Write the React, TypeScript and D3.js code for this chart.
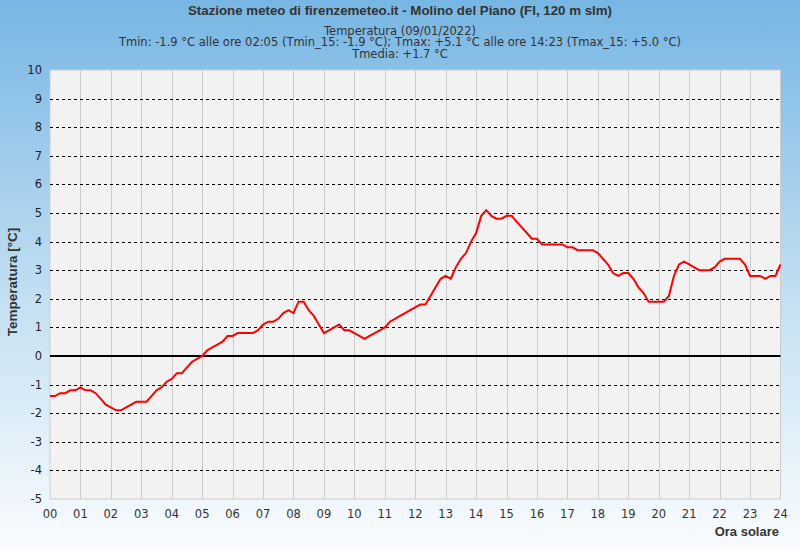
import React from "react";
import * as d3 from "d3";

const TITLE = "Stazione meteo di firenzemeteo.it - Molino del Piano (FI, 120 m slm)";
const SUBTITLE = [
  "Temperatura (09/01/2022)",
  "Tmin: -1.9 °C alle ore 02:05 (Tmin_15: -1.9 °C); Tmax: +5.1 °C alle ore 14:23 (Tmax_15: +5.0 °C)",
  "Tmedia: +1.7 °C",
];
const X_LABEL = "Ora solare";
const Y_LABEL = "Temperatura [°C]";
const HOUR_TICKS = ["00","01","02","03","04","05","06","07","08","09","10","11","12","13","14","15","16","17","18","19","20","21","22","23","24"];
const Y_TICKS = [-5,-4,-3,-2,-1,0,1,2,3,4,5,6,7,8,9,10];

// temperature every 10 minutes from 00:00 to 24:00
const TEMPS = [
  -1.4,-1.4,-1.3,-1.3,-1.2,-1.2,-1.1,-1.2,-1.2,-1.3,-1.5,-1.7,
  -1.8,-1.9,-1.9,-1.8,-1.7,-1.6,-1.6,-1.6,-1.4,-1.2,-1.1,-0.9,
  -0.8,-0.6,-0.6,-0.4,-0.2,-0.1,0.0,0.2,0.3,0.4,0.5,0.7,
  0.7,0.8,0.8,0.8,0.8,0.9,1.1,1.2,1.2,1.3,1.5,1.6,
  1.5,1.9,1.9,1.6,1.4,1.1,0.8,0.9,1.0,1.1,0.9,0.9,
  0.8,0.7,0.6,0.7,0.8,0.9,1.0,1.2,1.3,1.4,1.5,1.6,
  1.7,1.8,1.8,2.1,2.4,2.7,2.8,2.7,3.1,3.4,3.6,4.0,
  4.3,4.9,5.1,4.9,4.8,4.8,4.9,4.9,4.7,4.5,4.3,4.1,
  4.1,3.9,3.9,3.9,3.9,3.9,3.8,3.8,3.7,3.7,3.7,3.7,
  3.6,3.4,3.2,2.9,2.8,2.9,2.9,2.7,2.4,2.2,1.9,1.9,
  1.9,1.9,2.1,2.8,3.2,3.3,3.2,3.1,3.0,3.0,3.0,3.1,
  3.3,3.4,3.4,3.4,3.4,3.2,2.8,2.8,2.8,2.7,2.8,2.8,
  3.2,
];

const W = 800;
const H = 550;
const PLOT = { left: 50, right: 780.5, top: 70, bottom: 499 };

export default function App() {
  const x = d3.scaleLinear().domain([0, 24]).range([PLOT.left, PLOT.right]);
  const y = d3.scaleLinear().domain([-5, 10]).range([PLOT.bottom, PLOT.top]);
  const pts = TEMPS.map((v, i) => [i / 6, v] as [number, number]);
  const line = d3.line<[number, number]>().x((d) => x(d[0])).y((d) => y(d[1])).curve(d3.curveLinear);
  const font = "'DejaVu Sans', sans-serif";
  const boldFont = "'Liberation Sans', Arial, sans-serif";
  return (
    <svg width={W} height={H} style={{ position: "absolute", left: 0, top: 0 }}>
      <defs>
        <linearGradient id="bg" x1="0" y1="0" x2="0" y2="1">
          <stop offset="0%" stopColor="#77b6e4" />
          <stop offset="55%" stopColor="#c4e0f2" />
          <stop offset="100%" stopColor="#fafcfe" />
        </linearGradient>
      </defs>
      <rect x={0} y={0} width={W} height={H} fill="url(#bg)" />
      <rect x={PLOT.left} y={PLOT.top} width={PLOT.right - PLOT.left} height={PLOT.bottom - PLOT.top} fill="#f2f2f2" stroke="#cccccc" strokeWidth={1} />
      {HOUR_TICKS.slice(1, 24).map((_, i) => (
        <line key={"v" + i} x1={Math.round(x(i + 1)) + 0.5} x2={Math.round(x(i + 1)) + 0.5} y1={PLOT.top} y2={PLOT.bottom} stroke="#cccccc" strokeWidth={1} />
      ))}
      {Y_TICKS.filter((t) => t !== 0 && t !== -5 && t !== 10).map((t) => (
        <line key={"h" + t} x1={PLOT.left} x2={PLOT.right} y1={Math.round(y(t)) + 0.5} y2={Math.round(y(t)) + 0.5} stroke="#000" strokeWidth={1} strokeDasharray="3,3" />
      ))}
      <line x1={PLOT.left} x2={PLOT.right} y1={y(0)} y2={y(0)} stroke="#000" strokeWidth={2} />
      <path d={line(pts) || ""} fill="none" stroke="#ff0000" strokeWidth={2} />
      {Y_TICKS.map((t) => (
        <text key={"yt" + t} x={42} y={y(t)} dy="0.35em" textAnchor="end" fontFamily={font} fontSize={11.5} fill="#222">{t}</text>
      ))}
      {HOUR_TICKS.map((t, i) => (
        <text key={"xt" + i} x={x(i)} y={518} textAnchor="middle" fontFamily={font} fontSize={11.5} fill="#333">{t}</text>
      ))}
      <text x={400} y={15} textAnchor="middle" fontFamily={boldFont} fontWeight="bold" fontSize={13.3} fill="#333">{TITLE}</text>
      {SUBTITLE.map((s, i) => (
        <text key={"st" + i} x={400} y={34.5 + i * 11.5} textAnchor="middle" fontFamily={font} fontSize={11.5} fill="#333">{s}</text>
      ))}
      <text x={779} y={536} textAnchor="end" fontFamily={boldFont} fontWeight="bold" fontSize={13} fill="#333">{X_LABEL}</text>
      <text transform={`translate(17,282) rotate(-90)`} textAnchor="middle" fontFamily={boldFont} fontWeight="bold" fontSize={13.5} fill="#333">{Y_LABEL}</text>
    </svg>
  );
}
